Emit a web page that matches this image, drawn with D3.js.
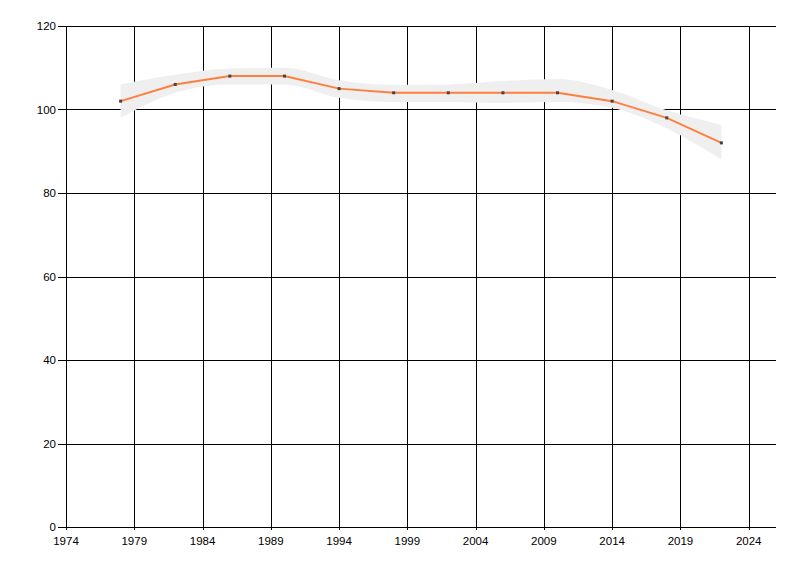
<!DOCTYPE html>
<html><head><meta charset="utf-8">
<script src="https://cdn.jsdelivr.net/npm/d3@7"></script>
<style>body{margin:0;background:#fff}svg{display:block}text{font-family:"Liberation Sans",Arial,sans-serif;font-size:11.5px;fill:#000}</style>
</head><body><svg id="c" width="800" height="576"></svg>
<script>
const years = [1978,1982,1986,1990,1994,1998,2002,2006,2010,2014,2018,2022];
const values = [102,106,108,108,105,104,104,104,104,102,98,92];
const upper = [106,108.3,109.8,110,107,105.9,106,106.8,107.3,104.7,99.8,96.3];
const lower = [98,104,106,106,102.8,101.8,101.8,101.6,101.8,100.4,95.5,88];
const xTicks = [1974,1979,1984,1989,1994,1999,2004,2009,2014,2019,2024];
const yTicks = [0,20,40,60,80,100,120];

const svg = d3.select("#c");
const L=66,R=776,T=26,B=527;
const x = d3.scaleLinear().domain([1974,2026]).range([L,R]);
const y = d3.scaleLinear().domain([0,120]).range([B,T]);

// grid
svg.append("g").selectAll("line").data(xTicks.slice(1)).join("line")
  .attr("x1",d=>Math.round(x(d))+0.5).attr("x2",d=>Math.round(x(d))+0.5)
  .attr("y1",T).attr("y2",B+3).attr("stroke","#000");
svg.append("g").selectAll("line").data(yTicks.slice(1)).join("line")
  .attr("y1",d=>Math.round(y(d))+0.5).attr("y2",d=>Math.round(y(d))+0.5)
  .attr("x1",L-8).attr("x2",R).attr("stroke","#000");
// axes lines
svg.append("line").attr("x1",L+0.5).attr("x2",L+0.5).attr("y1",T).attr("y2",B+3).attr("stroke","#000");
svg.append("line").attr("x1",L-8).attr("x2",R).attr("y1",B+0.5).attr("y2",B+0.5).attr("stroke","#000");

// labels
svg.append("g").selectAll("text").data(yTicks).join("text")
  .attr("x",L-10).attr("y",d=>y(d)+4).attr("text-anchor","end").text(d=>d);
svg.append("g").selectAll("text").data(xTicks).join("text")
  .attr("x",d=>x(d)).attr("y",B+18).attr("text-anchor","middle").text(d=>d);

// band
const idx = d3.range(years.length);
svg.append("path").datum(idx)
  .attr("d", d3.area().curve(d3.curveMonotoneX).x(i=>x(years[i])).y0(i=>y(lower[i])).y1(i=>y(upper[i])))
  .attr("fill","#efefef");

// line
svg.append("path").datum(idx)
  .attr("d", d3.line().x(i=>x(years[i])).y(i=>y(values[i])))
  .attr("fill","none").attr("stroke","#ff7f3f").attr("stroke-width",2);

svg.append("g").selectAll("rect").data(idx).join("rect")
  .attr("x",i=>x(years[i])-1.5).attr("y",i=>y(values[i])-1.5).attr("width",3).attr("height",3)
  .attr("fill","#444");
</script></body></html>
